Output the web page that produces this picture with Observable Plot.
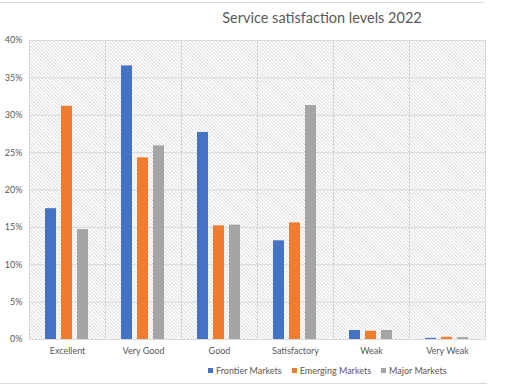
<!DOCTYPE html>
<html>
<head>
<meta charset="utf-8">
<script src="https://cdn.jsdelivr.net/npm/d3@7"></script>
<script src="https://cdn.jsdelivr.net/npm/@observablehq/plot@0.6"></script>
<style>
  html, body { margin: 0; padding: 0; background: #fff; }
  #wrap { position: relative; width: 506px; height: 388px; font-family: Lato, "Open Sans", sans-serif; color: #595959; }
  #wrap .topline { position: absolute; left: 0; top: 2px; width: 484px; border-top: 1px solid #d9d9d9; }
  #wrap .botline { position: absolute; left: 0; top: 383px; width: 487px; border-top: 1px solid #d9d9d9; }
  #title { position: absolute; top: 9px; left: 222px; width: 200px; text-align: center; font-size: 14.5px; white-space: nowrap; }
  #legend { position: absolute; top: 365px; left: 208px; font-size: 9px; white-space: nowrap; display: flex; gap: 10px; }
  #legend span.sw { display: inline-block; width: 5px; height: 5px; margin-right: 3px; vertical-align: 1px; }
  #chart { position: absolute; left: 0; top: 0; }
</style>
</head>
<body>
<div id="wrap">
  <div class="topline"></div>
  <div class="botline"></div>
  <div id="chart"></div>
  <div id="title">Service satisfaction levels 2022</div>
  <div id="legend"></div>
</div>
<script>
const categories = ["Excellent", "Very Good", "Good", "Satisfactory", "Weak", "Very Weak"];
const series = ["Frontier Markets", "Emerging Markets", "Major Markets"];
const frontier = [17.5, 36.6, 27.7, 13.2, 1.2, 0.15];
const emerging = [31.2, 24.3, 15.2, 15.6, 1.1, 0.3];
const major = [14.7, 25.9, 15.3, 31.3, 1.2, 0.25];
const colors = ["#4472C4", "#ED7D31", "#A5A5A5"];
const yTicks = [0, 5, 10, 15, 20, 25, 30, 35, 40];

const values = [frontier, emerging, major];
const data = [];
categories.forEach((c, i) => {
  series.forEach((s, j) => data.push({category: c, series: s, value: values[j][i]}));
});

const chart = Plot.plot({
  width: 506,
  height: 388,
  marginLeft: 27,
  marginRight: 19,
  marginTop: 40,
  marginBottom: 49,
  style: {fontFamily: "Lato, 'Open Sans', sans-serif", fontSize: "9px", color: "#595959", background: "transparent", overflow: "visible"},
  fx: {domain: categories, padding: 0, label: null, tickSize: 0, tickPadding: 8, axis: "bottom"},
  x: {domain: series, paddingInner: 0.3, paddingOuter: 1.0, axis: null},
  y: {domain: [0, 40], ticks: yTicks, tickFormat: d => d + "%", label: null, tickSize: 0, tickPadding: 7},
  color: {domain: series, range: colors},
  marks: [
    Plot.frame({fill: "url(#hatch)", stroke: "#d9d9d9", strokeWidth: 1}),
    Plot.ruleY(yTicks, {stroke: "#d9d9d9", strokeWidth: 1}),
    Plot.barY(data, {fx: "category", x: "series", y: "value", fill: "series"})
  ]
});

const svg = d3.select(chart);
const defs = svg.insert("defs", ":first-child");
const pat = defs.append("pattern")
  .attr("id", "hatch")
  .attr("patternUnits", "userSpaceOnUse")
  .attr("width", 3.5).attr("height", 3.5);
pat.append("rect").attr("width", 3.5).attr("height", 3.5).attr("fill", "white");
pat.append("path")
  .attr("d", "M-1,-1L4.5,4.5M-1,2.5L1,4.5M2.5,-1L4.5,1")
  .attr("stroke", "#c4c4c4").attr("stroke-width", 0.8).attr("fill", "none");

document.getElementById("chart").appendChild(chart);

const legend = document.getElementById("legend");
series.forEach((s, j) => {
  const item = document.createElement("div");
  const sw = document.createElement("span");
  sw.className = "sw";
  sw.style.background = colors[j];
  item.appendChild(sw);
  item.appendChild(document.createTextNode(s));
  legend.appendChild(item);
});
</script>
</body>
</html>
